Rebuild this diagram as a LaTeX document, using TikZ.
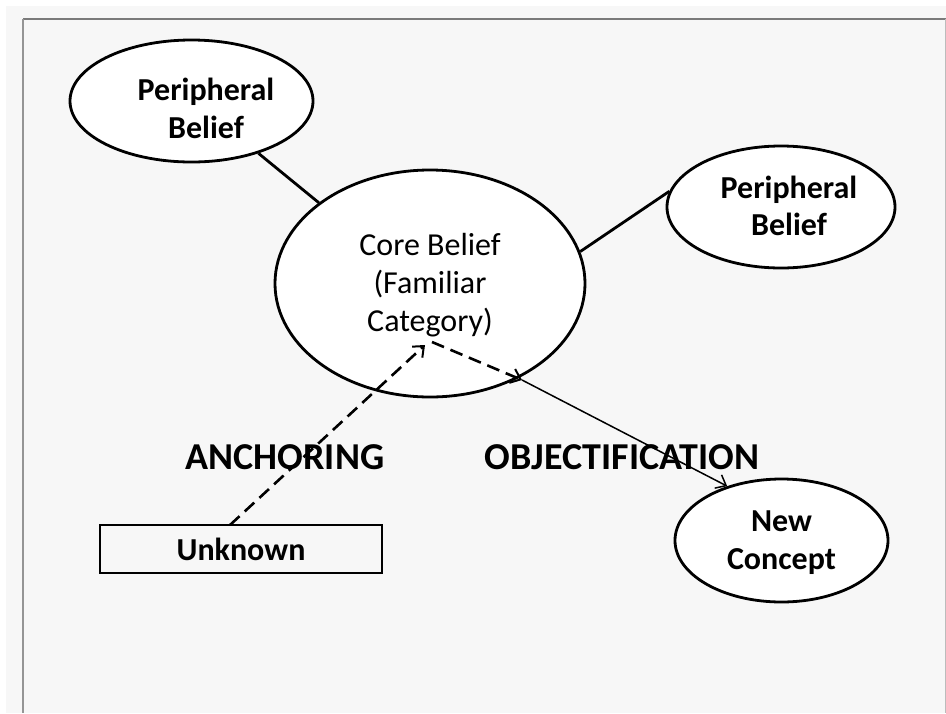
\documentclass[tikz,border=0pt]{standalone}
\usepackage{fontspec}
\setmainfont{Carlito}
\usetikzlibrary{shapes.geometric,arrows.meta}
\definecolor{bgc}{HTML}{F7F7F7}
\definecolor{framec}{HTML}{7A7A7A}
\begin{document}
\begin{tikzpicture}[x=1pt,y=-1pt,
  ell/.style={ellipse,draw=black,line width=2.8pt,fill=white,inner sep=0pt},
  txt/.style={align=center,inner sep=0pt,font=\fontsize{32}{37.5}\selectfont\bfseries},
  coretxt/.style={align=center,inner sep=0pt,font=\fontsize{32}{38}\selectfont},
  lbl/.style={inner sep=0pt,font=\fontsize{38}{40}\selectfont\bfseries},
  link/.style={draw=black,line width=2.8pt},
  dasharrow/.style={draw=black,line width=2.6pt,dash pattern=on 13pt off 7pt,-{Straight Barb[length=9pt,width=15pt,line width=2pt]}},
  thinarrow/.style={draw=black,line width=1.5pt,-{Straight Barb[length=9pt,width=15pt,line width=1.5pt]}}]
\useasboundingbox (0,0) rectangle (946,713);
\fill[bgc] (6,6) rectangle (946,713);
\draw[framec,line width=1.8pt] (23,19) -- (946,19);
\draw[framec!80,line width=1.2pt] (23,19) -- (23,713);
\draw[framec!50,line width=1.2pt] (945.3,19) -- (945.3,713);

% ellipses
\node[ell,minimum width=243pt,minimum height=122pt] (pb1) at (191.5,101) {};
\node[txt] (pb1t) at (206,108.5) {Peripheral\\Belief};
\node[ell,minimum width=228pt,minimum height=122pt] (pb2) at (781,207) {};
\node[txt] (pb2t) at (789,206) {Peripheral\\Belief};
\node[ell,minimum width=310pt,minimum height=227pt] (core) at (430,283.5) {};
\node[coretxt] (coret) at (430,285) {Core Belief\\(Familiar\\Category)};
\node[ell,minimum width=213pt,minimum height=123pt] (nc) at (781.5,540.5) {};
\node[txt] (nct) at (781.5,542.5) {New\\Concept};
\node[draw=black,line width=2.8pt,fill=none,minimum width=282pt,minimum height=48pt,inner sep=0pt,
      font=\fontsize{32}{36}\selectfont\bfseries] (unk) at (241,549) {Unknown};

% links
\draw[link] (pb1.-38) -- (core.144);
\draw[link] (core.12) -- (pb2.172);

% labels
\node[lbl] (anch) at (285,457) {ANCHORING};
\node[lbl] (obj) at (622,457) {OBJECTIFICATION};

% arrows
\coordinate (ustart) at (230,525);
\coordinate (tip1) at (425,345);
\coordinate (dstart) at (432,342);
\coordinate (cedge) at (522,380);
\draw[dasharrow] (ustart) -- (tip1);
\draw[dasharrow] (dstart) -- (cedge);
\draw[thinarrow] (cedge) -- (nc.135);
\end{tikzpicture}
\end{document}
